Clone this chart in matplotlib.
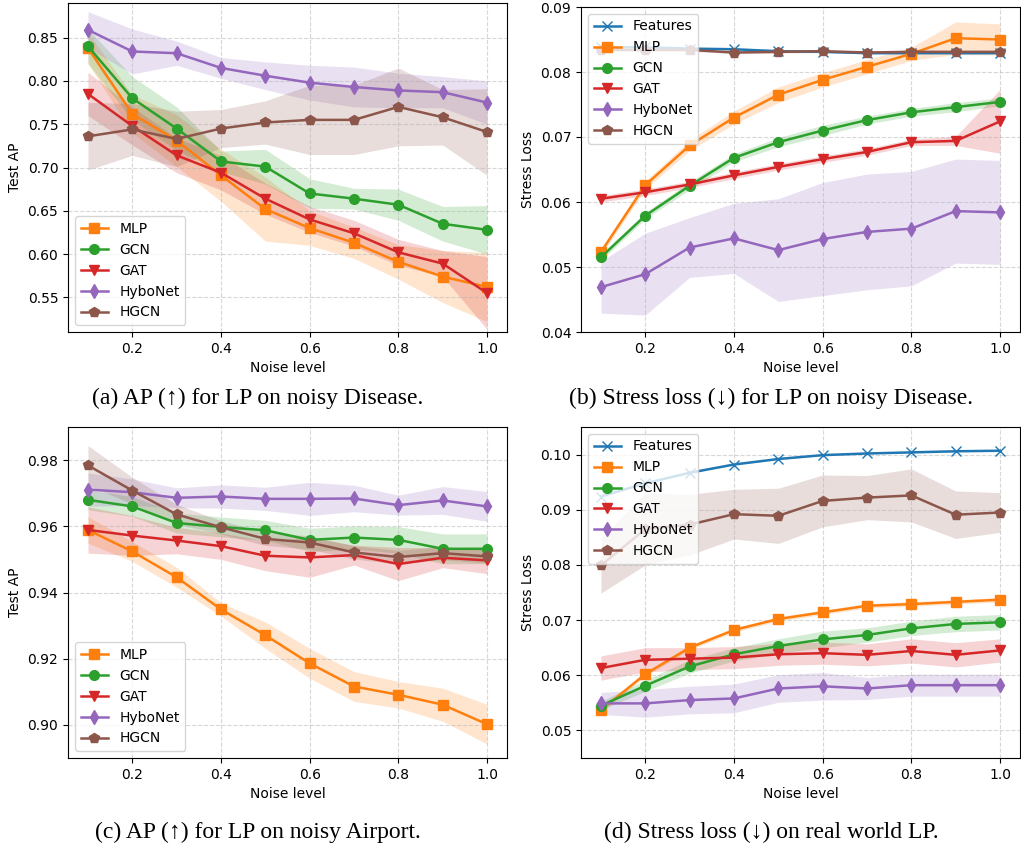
import matplotlib
matplotlib.use("Agg")
import matplotlib.pyplot as plt
import numpy as np

noise = [0.1, 0.2, 0.3, 0.4, 0.5, 0.6, 0.7, 0.8, 0.9, 1.0]

# (a) AP on noisy Disease
disease_ap = {
    "MLP": [0.838, 0.762, 0.731, 0.691, 0.652, 0.630, 0.613, 0.591, 0.574, 0.562],
    "GCN": [0.840, 0.780, 0.745, 0.707, 0.701, 0.670, 0.664, 0.657, 0.635, 0.628],
    "GAT": [0.785, 0.748, 0.714, 0.694, 0.664, 0.640, 0.624, 0.602, 0.589, 0.555],
    "HyboNet": [0.859, 0.834, 0.832, 0.815, 0.806, 0.798, 0.793, 0.789, 0.787, 0.775],
    "HGCN": [0.736, 0.744, 0.733, 0.745, 0.752, 0.755, 0.755, 0.770, 0.758, 0.741],
}
disease_ap_sd = {
    "MLP": [0.018, 0.022, 0.03, 0.03, 0.037, 0.02, 0.018, 0.02, 0.03, 0.04],
    "GCN": [0.02, 0.025, 0.025, 0.012, 0.02, 0.017, 0.012, 0.018, 0.02, 0.028],
    "GAT": [0.025, 0.022, 0.02, 0.02, 0.018, 0.015, 0.015, 0.015, 0.015, 0.042],
    "HyboNet": [0.021, 0.026, 0.014, 0.012, 0.016, 0.02, 0.023, 0.02, 0.018, 0.025],
    "HGCN": [0.039, 0.03, 0.032, 0.022, 0.025, 0.04, 0.04, 0.045, 0.032, 0.05],
}

# (b) stress loss on noisy Disease
disease_sl = {
    "Features": [0.0838, 0.0838, 0.0836, 0.0835, 0.0832, 0.0831, 0.0829, 0.0829, 0.0829, 0.0829],
    "MLP": [0.0523, 0.0626, 0.0687, 0.0730, 0.0765, 0.0788, 0.0808, 0.0828, 0.0852, 0.0850],
    "GCN": [0.0515, 0.0579, 0.0625, 0.0668, 0.0692, 0.0710, 0.0726, 0.0738, 0.0746, 0.0754],
    "GAT": [0.0605, 0.0615, 0.0627, 0.0641, 0.0654, 0.0666, 0.0677, 0.0692, 0.0694, 0.0724],
    "HyboNet": [0.0469, 0.0489, 0.0530, 0.0544, 0.0526, 0.0543, 0.0554, 0.0559, 0.0586, 0.0584],
    "HGCN": [0.0834, 0.0834, 0.0834, 0.0830, 0.0831, 0.0832, 0.0830, 0.0831, 0.0831, 0.0831],
}
disease_sl_sd = {
    "Features": [0.0001] * 10,
    "MLP": [0.0005, 0.0006, 0.0008, 0.001, 0.0012, 0.0011, 0.0011, 0.001, 0.0025, 0.0024],
    "GCN": [0.0005, 0.0005, 0.0006, 0.0006, 0.0007, 0.0008, 0.0006, 0.0006, 0.0007, 0.0006],
    "GAT": [0.0005, 0.0005, 0.0005, 0.0005, 0.0005, 0.0005, 0.0005, 0.0005, 0.0007, 0.0049],
    "HyboNet": [0.004, 0.0063, 0.0046, 0.0054, 0.0079, 0.0087, 0.0089, 0.0088, 0.008, 0.008],
    "HGCN": [0.0002] * 10,
}

# (c) AP on noisy Airport
airport_ap = {
    "MLP": [0.9589, 0.9524, 0.9446, 0.9349, 0.9271, 0.9186, 0.9116, 0.9091, 0.9061, 0.9002],
    "GCN": [0.9680, 0.9660, 0.9610, 0.9598, 0.9588, 0.9559, 0.9566, 0.9559, 0.9532, 0.9532],
    "GAT": [0.9589, 0.9572, 0.9557, 0.9540, 0.9511, 0.9506, 0.9513, 0.9486, 0.9505, 0.9497],
    "HyboNet": [0.9711, 0.9703, 0.9686, 0.9690, 0.9683, 0.9683, 0.9684, 0.9664, 0.9678, 0.9660],
    "HGCN": [0.9784, 0.9708, 0.9636, 0.9597, 0.9562, 0.9551, 0.9521, 0.9507, 0.9519, 0.9509],
}
airport_ap_sd = {
    "MLP": [0.004, 0.003, 0.003, 0.002, 0.004, 0.0045, 0.0045, 0.004, 0.005, 0.006],
    "GCN": [0.003, 0.003, 0.003, 0.003, 0.003, 0.0035, 0.0035, 0.004, 0.0045, 0.0045],
    "GAT": [0.007, 0.006, 0.004, 0.004, 0.0045, 0.006, 0.003, 0.005, 0.003, 0.004],
    "HyboNet": [0.005, 0.004, 0.003, 0.0035, 0.0035, 0.005, 0.004, 0.003, 0.0042, 0.0045],
    "HGCN": [0.006, 0.004, 0.003, 0.002, 0.002, 0.002, 0.002, 0.002, 0.002, 0.002],
}

# (d) stress loss on real world LP
real_sl = {
    "Features": [0.0924, 0.0948, 0.0967, 0.0982, 0.0992, 0.0999, 0.1002, 0.1004, 0.1006, 0.1007],
    "MLP": [0.0537, 0.0602, 0.0650, 0.0682, 0.0702, 0.0714, 0.0726, 0.0729, 0.0733, 0.0737],
    "GCN": [0.0545, 0.0581, 0.0616, 0.0638, 0.0653, 0.0665, 0.0673, 0.0685, 0.0693, 0.0696],
    "GAT": [0.0613, 0.0628, 0.0630, 0.0632, 0.0638, 0.0640, 0.0637, 0.0644, 0.0637, 0.0645],
    "HyboNet": [0.0549, 0.0549, 0.0555, 0.0558, 0.0576, 0.0580, 0.0576, 0.0582, 0.0582, 0.0582],
    "HGCN": [0.0799, 0.0865, 0.0873, 0.0892, 0.0889, 0.0916, 0.0922, 0.0926, 0.0891, 0.0895],
}
real_sl_sd = {
    "Features": [0.0001] * 10,
    "MLP": [0.0004] * 10,
    "GCN": [0.0008, 0.001, 0.0012, 0.0012, 0.0013, 0.0015, 0.0013, 0.0013, 0.0014, 0.0014],
    "GAT": [0.0022, 0.0022, 0.002, 0.002, 0.002, 0.002, 0.002, 0.0022, 0.0022, 0.0021],
    "HyboNet": [0.002, 0.0025, 0.0025, 0.0026, 0.0025, 0.0025, 0.002, 0.002, 0.002, 0.002],
    "HGCN": [0.005, 0.0065, 0.0055, 0.0045, 0.005, 0.0047, 0.004, 0.0048, 0.0043, 0.0036],
}

styles = {
    "Features": ("tab:blue", "x"),
    "MLP": ("tab:orange", "s"),
    "GCN": ("tab:green", "o"),
    "GAT": ("tab:red", "v"),
    "HyboNet": ("tab:purple", "d"),
    "HGCN": ("tab:brown", "p"),
}

W, H = 1021, 848
fig = plt.figure(figsize=(W / 100, H / 100), dpi=100)


def make_axes(left, top, right, bottom):
    return fig.add_axes([left / W, 1 - bottom / H, (right - left) / W, (bottom - top) / H])


def draw(ax, means, sds, ylabel, ylim, legend_loc, caption, cx, cy):
    for name, vals in means.items():
        color, marker = styles[name]
        m = np.array(vals)
        s = np.array(sds[name])
        ax.plot(noise, m, color=color, marker=marker, markersize=7, linewidth=1.8, label=name)
        ax.fill_between(noise, m - s, m + s, color=color, alpha=0.2, linewidth=0)
    ax.set_ylim(*ylim)
    ax.set_xlabel("Noise level")
    ax.set_ylabel(ylabel)
    ax.grid(True, linestyle="--", alpha=0.5)
    ax.legend(loc=legend_loc)
    fig.text(cx / W, 1 - cy / H, caption, ha="center", va="center",
             fontsize=17, family=["Liberation Serif", "DejaVu Serif"])


ax_a = make_axes(68, 3, 507, 332)
ax_b = make_axes(581, 7, 1020, 332)
ax_c = make_axes(68, 427, 507, 758)
ax_d = make_axes(581, 427, 1020, 758)

draw(ax_a, disease_ap, disease_ap_sd, "Test AP", (0.51, 0.89), "lower left",
     "(a) AP (\u2191) for LP on noisy Disease.", 258, 398)
draw(ax_b, disease_sl, disease_sl_sd, "Stress Loss", (0.04, 0.09), "upper left",
     "(b) Stress loss (\u2193) for LP on noisy Disease.", 771, 398)
draw(ax_c, airport_ap, airport_ap_sd, "Test AP", (0.89, 0.99), "lower left",
     "(c) AP (\u2191) for LP on noisy Airport.", 258, 832)
draw(ax_d, real_sl, real_sl_sd, "Stress Loss", (0.045, 0.105), "upper left",
     "(d) Stress loss (\u2193) on real world LP.", 771, 832)

fig.savefig("out.png", dpi=100)
